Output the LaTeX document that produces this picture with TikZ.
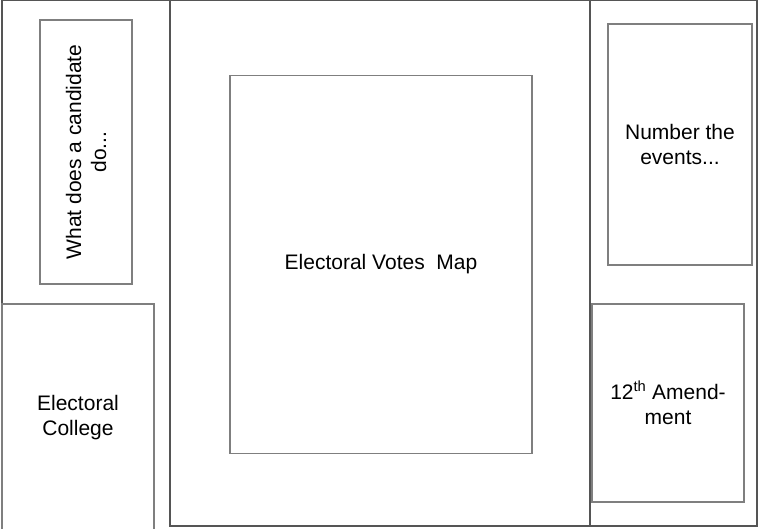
\documentclass[tikz,border=0pt]{standalone}
\usepackage{fontspec}
\setmainfont{Liberation Sans}
\definecolor{boxgray}{HTML}{7F7F7F}
\definecolor{framegray}{HTML}{555555}
\tikzset{
  panelbox/.style={draw=boxgray, line width=1.8pt, inner sep=0pt, align=center,
    font=\fontsize{21}{25}\selectfont, text=black},
  frameline/.style={draw=framegray, line width=1.5pt}
}
\begin{document}
\begin{tikzpicture}[x=1pt,y=-1pt]
\useasboundingbox (0,0) rectangle (758,529);
% frame
\coordinate (tl) at (2,0.75);
\coordinate (tr) at (757,0.75);
\coordinate (m1t) at (170,0.75);
\coordinate (m1b) at (170,526);
\coordinate (m2t) at (590,0.75);
\coordinate (m2b) at (590,526);
\coordinate (rb) at (757,526);
\coordinate (lb) at (2,304);
\draw[frameline] (lb) -- (tl) -- (tr) -- (rb) -- (m1b) -- (m1t);
\draw[frameline] (m2t) -- (m2b);
% boxes
\node[panelbox, minimum width=92pt, minimum height=264pt] (cand) at (86,152) {};
\node[rotate=90, align=center, font=\fontsize{21}{25}\selectfont] (candt) at (cand.center) {What does a candidate\\do...};
\node[panelbox, minimum width=152pt, minimum height=228pt] (college) at (78,418) {Electoral\\College};
\node[panelbox, minimum width=302pt, minimum height=378pt] (map) at (381,264.5) {Electoral Votes~~Map};
\node[panelbox, minimum width=144pt, minimum height=241pt] (events) at (680,144.5) {Number the\\events...};
\node[panelbox, minimum width=152pt, minimum height=198pt] (amend) at (668,403) {12\textsuperscript{th} Amend-\\ment};
\end{tikzpicture}
\end{document}
